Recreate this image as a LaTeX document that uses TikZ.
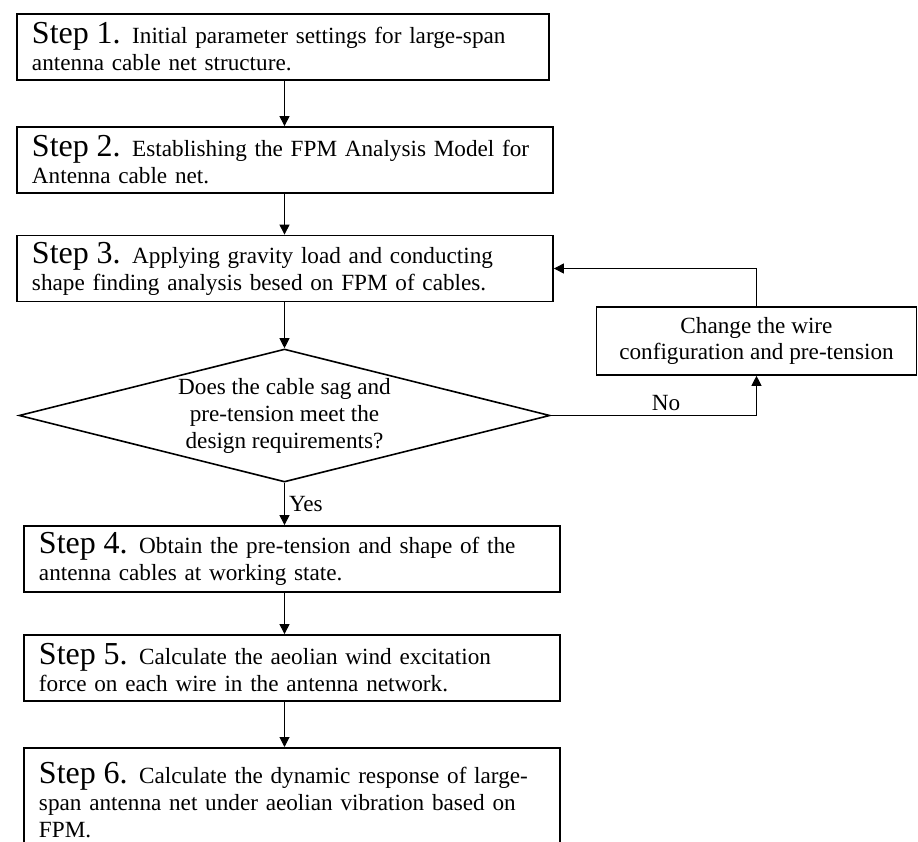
\documentclass[tikz,border=0pt]{standalone}
\usepackage{fontspec}
\setmainfont{Liberation Serif}
\usetikzlibrary{shapes.geometric,arrows.meta}

\newcommand{\stp}[1]{{\fontsize{16}{13}\selectfont Step #1.}}

\begin{document}
\begin{tikzpicture}[x=0.5pt,y=-0.5pt,
  stepbox/.style={draw,line width=0.9pt,minimum width=268pt,minimum height=33pt,
    text width=253pt,inner xsep=7.5pt,inner ysep=2pt,align=left,
    font=\fontsize{11.6}{13.5}\selectfont},
  decbox/.style={draw,diamond,aspect=4,line width=0.8pt,inner sep=0pt,
    minimum width=265.5pt,minimum height=66.5pt,align=center,
    font=\fontsize{11.6}{13.5}\selectfont},
  chgbox/.style={draw,line width=0.8pt,minimum width=160pt,minimum height=34pt,
    align=center,font=\fontsize{11.6}{12.8}\selectfont},
  arr/.style={-{Triangle[length=5pt,width=5pt]},line width=0.5pt},
  lbl/.style={font=\fontsize{11.6}{12}\selectfont,inner sep=2pt}]
  \useasboundingbox (0,0) rectangle (918,842);
  \clip (0,0) rectangle (918,842);
  % steps
  \node[stepbox,minimum width=266pt,text width=251pt] (s1) at (283,47)
    {\stp{1} Initial parameter settings for large-span\\antenna cable net structure.};
  \node[stepbox] (s2) at (285,160)
    {\stp{2} Establishing the FPM Analysis Model for\\Antenna cable net.};
  \node[stepbox] (s3) at (285,268.5)
    {\stp{3} Applying gravity load and conducting\\shape finding analysis besed on FPM of cables.};
  \node[decbox] (dec) at (284.5,415.5)
    {Does the cable sag and\\pre-tension meet the\\design requirements?};
  \node[chgbox] (chg) at (756.5,341)
    {Change the wire\\configuration and pre-tension};
  \node[stepbox] (s4) at (292,559)
    {\stp{4} Obtain the pre-tension and shape of the\\antenna cables at working state.};
  \node[stepbox] (s5) at (292,668)
    {\stp{5} Calculate the aeolian wind excitation\\force on each wire in the antenna network.};
  \node[stepbox,anchor=north,minimum height=52pt] (s6) at (292,747)
    {\stp{6} Calculate the dynamic response of large-\\span antenna net under aeolian vibration based on\\FPM.};
  % flow
  \draw[arr] (s1.south -| dec) -- (s2.north -| dec);
  \draw[arr] (s2.south -| dec) -- (s3.north -| dec);
  \draw[arr] (s3.south -| dec) -- (dec.north);
  \draw[arr] (dec.south) -- node[lbl,right] {Yes} (s4.north -| dec);
  \draw[arr] (s4.south -| dec) -- (s5.north -| dec);
  \draw[arr] (s5.south -| dec) -- (s6.north -| dec);
  % loop back
  \draw[arr] (dec.east) -| node[lbl,above,pos=0.28] {No} (chg.south);
  \draw[arr] (chg.north) |- (s3.east);
\end{tikzpicture}
\end{document}
